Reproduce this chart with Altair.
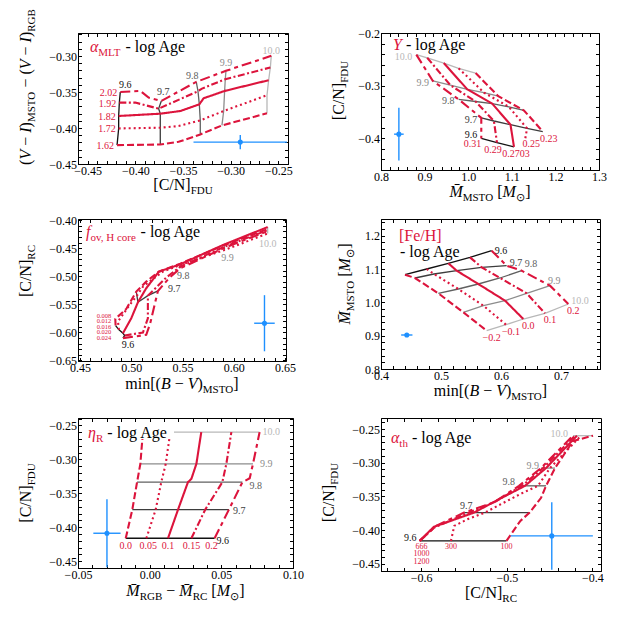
import math
import unicodedata
import altair as alt
import pandas as pd

FONT = "Liberation Serif"
RED = "#dc143c"
BLUE = "#1e90ff"
AGES = ["9.6", "9.7", "9.8", "9.9", "10.0"]
AGE_COLORS = ["#111111", "#3d3d3d", "#606060", "#8c8c8c", "#b8b8b8"]
DASH_KEYS = ["d0", "d1", "d2", "d3", "d4"]
DASHES = [[7, 3], [2, 3], [1, 0], [7, 2.5, 2, 2.5], [10, 4, 4, 4]]

# ---------------- Panel 1 : alpha_MLT ----------------
P1_PARAMS = ["1.62", "1.72", "1.82", "1.92", "2.02"]
P1_X = [
    [-0.4191, -0.3738, -0.3546, -0.3319, -0.3092, -0.2620],
    [-0.4174, -0.3738, -0.3546, -0.3319, -0.3074, -0.2620],
    [-0.4174, -0.3738, -0.3528, -0.3329, -0.3284, -0.3064, -0.2603],
    [-0.4167, -0.4000, -0.3755, -0.3343, -0.3301, -0.3057, -0.2585],
    [-0.4157, -0.3947, -0.3860, -0.3727, -0.3361, -0.3050, -0.2575],
]
P1_Y = [
    [-0.4238, -0.4229, -0.4192, -0.4089, -0.3964, -0.3796],
    [-0.4006, -0.3996, -0.3973, -0.3894, -0.3764, -0.3545],
    [-0.3833, -0.3801, -0.3764, -0.3671, -0.3587, -0.3485, -0.3336],
    [-0.3647, -0.3647, -0.3731, -0.3489, -0.3452, -0.3322, -0.3159],
    [-0.3499, -0.3485, -0.3578, -0.3624, -0.3359, -0.3206, -0.2996],
]
P1_AGE = [
    ["9.6", "9.7", "", "9.8", "9.9", "10.0"],
    ["9.6", "9.7", "", "9.8", "9.9", "10.0"],
    ["9.6", "9.7", "", "9.8", "", "9.9", "10.0"],
    ["9.6", "", "9.7", "9.8", "", "9.9", "10.0"],
    ["9.6", "", "", "9.7", "9.8", "9.9", "10.0"],
]
P1_ERR = [-0.290, -0.4196, 0.049, 0.010]

# ---------------- Panel 2 : Y ----------------
P2_PARAMS = ["0.23", "0.25", "0.2703", "0.29", "0.31"]
P2_X = [
    [1.017, 1.069, 1.128, 1.171],
    [0.978, 1.036, 1.093, 1.135, 1.131],
    [0.944, 0.998, 1.055, 1.097, 1.105],
    [0.906, 0.959, 1.017, 1.059, 1.066],
    [0.881, 0.919, 0.978, 1.030, 1.030],
]
P2_Y = [
    [-0.276, -0.320, -0.347, -0.387],
    [-0.267, -0.313, -0.340, -0.381, -0.400],
    [-0.257, -0.307, -0.334, -0.374, -0.416],
    [-0.247, -0.299, -0.330, -0.367, -0.408],
    [-0.241, -0.291, -0.326, -0.361, -0.400],
]
P2_AGE = [
    ["10.0", "9.9", "9.8", "9.7"],
    ["10.0", "9.9", "9.8", "9.7", ""],
    ["10.0", "9.9", "9.8", "9.7", "9.6"],
    ["10.0", "9.9", "9.8", "9.7", "9.6"],
    ["10.0", "9.9", "9.8", "9.7", "9.6"],
]
P2_ERR = [0.841, -0.392, 0.011, 0.050]

# ---------------- Panel 3 : f_ov ----------------
P3_PARAMS = ["0.008", "0.012", "0.016", "0.020", "0.024"]
P3_X = [
    [0.4847, 0.4844, 0.4951, 0.5049, 0.5146, 0.5269, 0.5477, 0.5909, 0.6331],
    [0.4880, 0.4870, 0.4984, 0.5055, 0.5114, 0.5308, 0.5477, 0.5909, 0.6331],
    [0.4919, 0.5000, 0.5065, 0.5146, 0.5269, 0.5477, 0.5909, 0.6331],
    [0.4935, 0.5114, 0.5162, 0.5162, 0.5341, 0.5477, 0.5909, 0.6331],
    [0.4919, 0.5146, 0.5185, 0.5260, 0.5373, 0.5477, 0.5909, 0.6331],
]
P3_Y = [
    [-0.5878, -0.5760, -0.5582, -0.5274, -0.5096, -0.4918, -0.4776, -0.4444, -0.4160],
    [-0.5955, -0.5807, -0.5511, -0.5345, -0.5185, -0.4918, -0.4800, -0.4533, -0.4237],
    [-0.6014, -0.5748, -0.5463, -0.5214, -0.4918, -0.4788, -0.4432, -0.4124],
    [-0.6056, -0.6002, -0.5748, -0.5345, -0.5025, -0.4829, -0.4474, -0.4178],
    [-0.6103, -0.6044, -0.5837, -0.5262, -0.5025, -0.4859, -0.4492, -0.4196],
]
P3_AGE = [
    ["9.6", "", "", "9.7", "", "", "9.8", "9.9", "10.0"],
    ["9.6", "", "", "9.7", "", "", "9.8", "9.9", "10.0"],
    ["9.6", "", "9.7", "", "", "9.8", "9.9", "10.0"],
    ["9.6", "", "", "9.7", "", "9.8", "9.9", "10.0"],
    ["9.6", "", "", "9.7", "", "9.8", "9.9", "10.0"],
]
P3_LABEL_X = [0.4805, 0.4805, 0.4805, 0.4805, 0.4805]
P3_LABEL_Y = [-0.5700, -0.5795, -0.5896, -0.5996, -0.6103]
P3_ERR = [0.630, -0.5837, 0.010, 0.050]

# ---------------- Panel 4 : [Fe/H] ----------------
P4_PARAMS = ["\u22120.2", "\u22120.1", "0.0", "0.1", "0.2"]
P4_X = [
    [0.4400, 0.4567, 0.4956, 0.5372, 0.5761],
    [0.4761, 0.4883, 0.5289, 0.5706, 0.6083],
    [0.5122, 0.5261, 0.5622, 0.6067, 0.6372],
    [0.5483, 0.5678, 0.5983, 0.6428, 0.6733],
    [0.5844, 0.6094, 0.6344, 0.6817, 0.7122],
]
P4_Y = [
    [1.083, 1.073, 1.027, 0.970, 0.915],
    [1.100, 1.085, 1.040, 0.990, 0.933],
    [1.117, 1.095, 1.055, 1.005, 0.950],
    [1.135, 1.105, 1.073, 1.027, 0.967],
    [1.155, 1.110, 1.095, 1.050, 0.995],
]
P4_AGE = [["9.6", "9.7", "9.8", "9.9", "10.0"]] * 5
P4_ERR = [0.443, 0.902, 0.0094, 0.006]

# ---------------- Panel 5 : eta_R ----------------
P5_PARAMS = ["0.0", "0.05", "0.1", "0.15", "0.2"]
P5_X = [
    [-0.0167, -0.0121, -0.0088, -0.0065, -0.0047],
    [-0.0023, 0.0042, 0.0081, 0.0112, 0.0144],
    [0.0128, 0.0198, 0.0267, 0.0291, 0.0326, 0.0360],
    [0.0291, 0.0388, 0.0507, 0.0535, 0.0570],
    [0.0453, 0.0553, 0.0647, 0.0698, 0.0721, 0.0767],
]
P5_Y = [
    [-0.4162, -0.3739, -0.3336, -0.3065, -0.2598],
    [-0.4162, -0.3739, -0.3336, -0.3065, -0.2598],
    [-0.4162, -0.3739, -0.3336, -0.3287, -0.3065, -0.2598],
    [-0.4162, -0.3739, -0.3336, -0.3065, -0.2598],
    [-0.4162, -0.3739, -0.3336, -0.3277, -0.3065, -0.2598],
]
P5_AGE = [
    ["9.6", "9.7", "9.8", "9.9", "10.0"],
    ["9.6", "9.7", "9.8", "9.9", "10.0"],
    ["9.6", "9.7", "9.8", "", "9.9", "10.0"],
    ["9.6", "9.7", "9.8", "9.9", "10.0"],
    ["9.6", "9.7", "9.8", "", "9.9", "10.0"],
]
P5_ERR = [-0.0298, -0.4088, 0.0095, 0.050]

# ---------------- Panel 6 : alpha_th ----------------
P6_PARAMS = ["100", "300", "666", "1000", "1200"]
P6_X = [
    [-0.5004, -0.4842, -0.4734, -0.4600, -0.4542, -0.4437, -0.4227, -0.3993],
    [-0.5653, -0.5614, -0.5459, -0.5255, -0.5103, -0.4835, -0.4636, -0.4496, -0.4134],
    [-0.6019, -0.5853, -0.5382, -0.5112, -0.4788, -0.4542, -0.4180],
    [-0.6019, -0.5846, -0.5440, -0.5131, -0.4823, -0.4577, -0.4204],
    [-0.6019, -0.5826, -0.5498, -0.5151, -0.4858, -0.4601, -0.4227],
]
P6_Y = [
    [-0.4158, -0.3861, -0.3738, -0.3520, -0.3342, -0.3079, -0.2678, -0.2599],
    [-0.4158, -0.3936, -0.3837, -0.3738, -0.3636, -0.3459, -0.3342, -0.3079, -0.2599],
    [-0.4158, -0.3950, -0.3738, -0.3554, -0.3342, -0.3079, -0.2599],
    [-0.4158, -0.3960, -0.3738, -0.3574, -0.3342, -0.3079, -0.2599],
    [-0.4158, -0.3936, -0.3738, -0.3589, -0.3342, -0.3079, -0.2599],
]
P6_AGE = [
    ["9.6", "", "9.7", "", "9.8", "9.9", "", "10.0"],
    ["9.6", "", "", "9.7", "", "", "9.8", "9.9", "10.0"],
    ["9.6", "", "9.7", "", "9.8", "9.9", "10.0"],
    ["9.6", "", "9.7", "", "9.8", "9.9", "10.0"],
    ["9.6", "", "9.7", "", "9.8", "9.9", "10.0"],
]
P6_ERR = [-0.4475, -0.4084, 0.048, 0.050]

# ---------------- text helpers ----------------
W = {" ": .25, "(": .333, ")": .333, "[": .333, "]": .333, "/": .278, "\u2212": .564, "-": .333,
     ".": .25, ",": .25, "A": .722, "B": .667, "C": .667, "D": .722, "E": .611, "F": .556,
     "G": .722, "H": .722, "I": .333, "L": .611, "M": .889, "N": .722, "O": .722, "R": .667,
     "S": .556, "T": .611, "U": .722, "V": .722, "Y": .722, "a": .444, "c": .444, "e": .444,
     "g": .5, "h": .5, "i": .278, "l": .278, "m": .778, "n": .5, "o": .5, "r": .333, "t": .278,
     "v": .5, "f": .333, "\u03b1": .52, "\u03b7": .5, "\u2299": .85}
WI = {"V": .611, "I": .333, "B": .611, "M": .833, "Y": .556, "f": .278}
ONE = pd.DataFrame({"k": [0]})
TICK = {"expr": "-3.5"}


def tw(s, size, italic):
    t = 0.0
    for ch in s:
        if unicodedata.combining(ch):
            continue
        w = WI.get(ch) if italic and ch in WI else W.get(ch, 0.5)
        t += w * size
    return t


def rich(segs, ax, ay, vertical=False, main=16, sub=11, shift=4, center=True):
    items = []
    for txt, kind, color in segs:
        size = sub if kind == "s" else main
        items.append((txt, size, kind == "i", color, kind))
    widths = [tw(t, s, i) for t, s, i, c, k in items]
    pos = -sum(widths) / 2 if center else 0.0
    out = []
    for (txt, size, it, color, kind), w in zip(items, widths):
        core = txt.strip(" ")
        lead = (len(txt) - len(txt.lstrip(" "))) * W[" "] * size
        off = shift if kind == "s" else 0
        p = pos + lead
        if vertical:
            x, y, ang = ax + off, ay - p, 270
        else:
            x, y, ang = ax + p, ay + off, 0
        out.append(
            alt.Chart(ONE).mark_text(
                text=core, font=FONT, fontSize=size,
                fontStyle="italic" if it else "normal", color=color,
                align="left", baseline="alphabetic", angle=ang,
            ).encode(x=alt.value(x), y=alt.value(y))
        )
        pos += w
    return out


def tick_values(dom, step):
    lo, hi = min(dom), max(dom)
    k0 = math.ceil(lo / step - 1e-9)
    k1 = math.floor(hi / step + 1e-9)
    return [round(k * step, 6) for k in range(k0, k1 + 1)]


def make_axes(spec, main_orient, other_orient):
    dom, major, minor, fmt = spec
    vals = tick_values(dom, minor)
    lexpr = f"abs(datum.value/{major} - round(datum.value/{major})) < 1e-6 ? datum.label : ''"
    main = alt.Axis(orient=main_orient, values=vals, format=fmt, labelExpr=lexpr, title=None,
                    tickSize=TICK, labelPadding=5)
    other = alt.Axis(orient=other_orient, values=vals, labels=False, title=None, domain=False,
                     tickSize=TICK)
    return main, other


def make_panel(params, X, Y, AGE, err, sx, sy, st):
    rows, nodes = [], []
    for i, (p, xl, yl, al) in enumerate(zip(params, X, Y, AGE)):
        for j, (xv, yv, a) in enumerate(zip(xl, yl, al)):
            rows.append(dict(param=p, dash=DASH_KEYS[i], ord=j, x=xv, y=yv))
            if a:
                nodes.append(dict(age=a, pidx=i, x=xv, y=yv))
    dl = pd.DataFrame(rows)
    dn = pd.DataFrame(nodes)

    xsc = alt.Scale(domain=sx[0], nice=False, zero=False)
    ysc = alt.Scale(domain=sy[0], nice=False, zero=False)
    xmain, xother = make_axes(sx, "bottom", "top")
    ymain, yother = make_axes(sy, "left", "right")

    def X_(f, ax=None):
        return alt.X(f + ":Q", scale=xsc, axis=ax)

    def Y_(f, ax=None):
        return alt.Y(f + ":Q", scale=ysc, axis=ax)

    ex, ey, dx, dy = err
    de = pd.DataFrame({"x": [ex], "y": [ey], "xlo": [ex - dx], "xhi": [ex + dx],
                       "ylo": [ey - dy], "yhi": [ey + dy]})

    layers = []
    layers.append(
        alt.Chart(dn).mark_line(strokeWidth=1.3, clip=True).encode(
            x=X_("x", xmain), y=Y_("y", ymain),
            color=alt.Color("age:N", scale=alt.Scale(domain=AGES, range=AGE_COLORS), legend=None),
            detail="age:N", order="pidx:Q")
    )
    layers.append(
        alt.Chart(de).mark_point(opacity=0, size=1).encode(x=X_("x", xother), y=Y_("y", yother))
    )
    layers.append(
        alt.Chart(dl).mark_line(color=RED, strokeWidth=2.1, clip=True).encode(
            x=X_("x"), y=Y_("y"),
            strokeDash=alt.StrokeDash("dash:N", scale=alt.Scale(domain=DASH_KEYS, range=DASHES), legend=None),
            detail="param:N", order="ord:Q")
    )
    layers.append(alt.Chart(de).mark_rule(color=BLUE, strokeWidth=1.4, clip=True).encode(
        x=X_("xlo"), x2="xhi", y=Y_("y")))
    layers.append(alt.Chart(de).mark_rule(color=BLUE, strokeWidth=1.4, clip=True).encode(
        x=X_("x"), y=Y_("ylo"), y2="yhi"))
    layers.append(alt.Chart(de).mark_point(filled=True, color=BLUE, opacity=1, size=26, shape="circle").encode(
        x=X_("x"), y=Y_("y")))

    for ai, pidx, ddx, ddy, al in st["age_labels"]:
        sel = dn[(dn.age == AGES[ai]) & (dn.pidx == pidx)].iloc[[0]][["x", "y"]].reset_index(drop=True)
        sel["t"] = AGES[ai]
        layers.append(alt.Chart(sel).mark_text(
            font=FONT, fontSize=10, color=AGE_COLORS[ai], align=al, baseline="middle",
            dx=ddx, dy=ddy).encode(x=X_("x"), y=Y_("y"), text="t:N"))
    if "plabel_pos" in st:
        lx, ly = st["plabel_pos"]
        dp = pd.DataFrame({"x": lx, "y": ly, "t": params})
        layers.append(alt.Chart(dp).mark_text(
            font=FONT, fontSize=6.5, color=RED, align="right", baseline="middle").encode(
            x=X_("x"), y=Y_("y"), text="t:N"))
    else:
        psize = st.get("plabel_size", 10)
        for i, (pt, ddx, ddy, al) in enumerate(st["param_labels"]):
            dp = pd.DataFrame({"x": [X[i][pt]], "y": [Y[i][pt]], "t": [params[i]]})
            layers.append(alt.Chart(dp).mark_text(
                font=FONT, fontSize=psize, color=RED, align=al, baseline="middle",
                dx=ddx, dy=ddy).encode(x=X_("x"), y=Y_("y"), text="t:N"))

    w, h = st["size"]
    if "title_box" in st:
        bx0, bx1, by0, by1 = st["title_box"]
        layers.append(alt.Chart(ONE).mark_rect(color="white").encode(
            x=alt.value(bx0), x2=alt.value(bx1), y=alt.value(by0), y2=alt.value(by1)))
    for segs, (tx, ty) in st["titles"]:
        layers += rich(segs, tx, ty, vertical=False, main=16, sub=11, shift=4, center=False)
    layers += rich(st["ytitle"], st["ybase"], h / 2 + st["yshift"], vertical=True)
    layers += rich(st["xtitle"], w / 2, h + st["xbase"], vertical=False)
    return (alt.layer(*layers).properties(width=w, height=h)
            .resolve_axis(x="independent", y="independent"))


K = "black"
CN_FDU = [("[C/N]", "r", K), ("FDU", "s", K)]
CN_RC = [("[C/N]", "r", K), ("RC", "s", K)]
MIN_BV = [("min[(", "r", K), ("B", "i", K), (" \u2212 ", "r", K), ("V", "i", K), (")", "r", K),
          ("MSTO", "s", K), ("]", "r", K)]
M_MSTO = [("M\u0304", "i", K), ("MSTO", "s", K), (" [", "r", K), ("M", "i", K), ("\u2299", "s", K),
          ("]", "r", K)]

ST1 = dict(size=(210, 131),
           age_labels=[(0, 4, 5, -7, "center"), (1, 4, 2, -9, "center"), (2, 4, -4, -6, "center"),
                       (3, 4, 0, -8, "center"), (4, 4, 0, -5, "center")],
           param_labels=[(0, -3, 1, "right")] * 5,
           titles=[([("\u03b1", "i", RED), ("MLT", "s", RED), (" - log Age", "r", K)], (12, 19))],
           ytitle=[("(", "r", K), ("V", "i", K), (" \u2212 ", "r", K), ("I", "i", K), (")", "r", K),
                   ("MSTO", "s", K), (" \u2212 (", "r", K), ("V", "i", K), (" \u2212 ", "r", K),
                   ("I", "i", K), (")", "r", K), ("RGB", "s", K)],
           ybase=-47, yshift=-11.5, xtitle=CN_FDU, xbase=25.5)
ST2 = dict(size=(218, 137),
           age_labels=[(0, 4, -4, -3, "right")] + [(k, 4, -4, 2, "right") for k in range(1, 5)],
           param_labels=[(-1, 6, 7, "center"), (-1, 6, 6, "center"), (-1, 2, 7, "center"),
                         (-1, -4, 7, "center"), (-1, 0, 6, "right")],
           titles=[([("Y", "i", RED), (" - log Age", "r", K)], (12, 17))],
           ytitle=CN_FDU, ybase=-37, yshift=-11, xtitle=M_MSTO, xbase=26.5)
ST3 = dict(size=(208, 142),
           age_labels=[(0, 4, 5, 7, "center"), (1, 4, 10, -2, "left"), (2, 4, 3, 8, "center"),
                       (3, 4, 3, 10, "center"), (4, 4, 0, 13, "center")],
           plabel_pos=(P3_LABEL_X, P3_LABEL_Y),
           titles=[([("f", "i", RED), ("ov, H core", "s", RED), (" - log Age", "r", K)], (8, 18))],
           ytitle=CN_RC, ybase=-47, yshift=-19, xtitle=MIN_BV, xbase=28)
ST4 = dict(size=(219, 150),
           age_labels=[(0, 4, 3, 0, "left"), (1, 4, 3, -3, "left"), (2, 4, 3, -7, "left"),
                       (3, 4, -2, -5, "left"), (4, 4, 3, -3, "left")],
           param_labels=[(-1, 5, 7, "center")] * 5,
           titles=[([("[Fe/H]", "r", RED)], (18, 22)), ([("- log Age", "r", K)], (19, 38))],
           ytitle=M_MSTO, ybase=-31, yshift=-10, xtitle=MIN_BV, xbase=27)
ST5 = dict(size=(215, 150),
           age_labels=[(0, 4, 2, 3, "left"), (1, 4, 4, 1, "left"), (2, 4, 7, 4, "left"),
                       (3, 4, 7, 0, "left"), (4, 4, 3, 0, "left")],
           param_labels=[(0, 0, 8, "center"), (0, 2, 8, "center"), (0, 0, 8, "center"),
                         (0, 0, 8, "center"), (0, -3, 8, "center")],
           title_box=(4, 96, 4, 21),
           titles=[([("\u03b7", "i", RED), ("R", "s", RED), (" - log Age", "r", K)], (10, 20))],
           ytitle=CN_FDU, ybase=-47, yshift=0,
           xtitle=[("M\u0304", "i", K), ("RGB", "s", K), (" \u2212 ", "r", K), ("M\u0304", "i", K),
                   ("RC", "s", K), (" [", "r", K), ("M", "i", K), ("\u2299", "s", K), ("]", "r", K)],
           xbase=28)
ST6 = dict(size=(220, 153),
           age_labels=[(0, 4, -3, -3, "right"), (1, 4, 2, -7, "center"), (2, 4, -4, -4, "right"),
                       (3, 4, -2, -2, "right"), (4, 4, -5, -2, "right")],
           plabel_size=8,
           param_labels=[(0, 0, 6, "center"), (0, 0, 6, "center"), (0, 2, 6, "center"),
                         (0, 2, 13.5, "center"), (0, 2, 21, "center")],
           titles=[([("\u03b1", "i", RED), ("th", "s", RED), (" - log Age", "r", K)], (10, 25))],
           ytitle=CN_FDU, ybase=-47, yshift=-2, xtitle=CN_RC, xbase=27)

p1 = make_panel(P1_PARAMS, P1_X, P1_Y, P1_AGE, P1_ERR,
                ([-0.46, -0.24], 0.05, 0.01, ".2f"), ([-0.45, -0.268], 0.05, 0.01, ".2f"), ST1)
p2 = make_panel(P2_PARAMS, P2_X, P2_Y, P2_AGE, P2_ERR,
                ([0.8, 1.3], 0.1, 0.02, ".1f"), ([-0.46, -0.2], 0.1, 0.02, ".1f"), ST2)
p3 = make_panel(P3_PARAMS, P3_X, P3_Y, P3_AGE, P3_ERR,
                ([0.448, 0.651], 0.05, 0.01, ".2f"), ([-0.651, -0.398], 0.05, 0.01, ".2f"), ST3)
p4 = make_panel(P4_PARAMS, P4_X, P4_Y, P4_AGE, P4_ERR,
                ([0.4, 0.765], 0.1, 0.02, ".1f"), ([0.8, 1.25], 0.1, 0.02, ".1f"), ST4)
p5 = make_panel(P5_PARAMS, P5_X, P5_Y, P5_AGE, P5_ERR,
                ([-0.05, 0.10], 0.05, 0.01, ".2f"), ([-0.46, -0.239], 0.05, 0.01, ".2f"), ST5)
p6 = make_panel(P6_PARAMS, P6_X, P6_Y, P6_AGE, P6_ERR,
                ([-0.647, -0.39], 0.1, 0.02, ".1f"), ([-0.4604, -0.2337], 0.05, 0.01, ".2f"), ST6)

chart = (
    alt.concat(p1, p2, p3, p4, p5, p6, columns=2, bounds="flush",
               spacing={"row": 49, "column": 88})
    .properties(padding={"left": 9, "top": 0, "right": 4, "bottom": 4}, background="white")
    .configure_view(stroke="black", strokeWidth=1)
    .configure_axis(grid=False, domainColor="black", tickColor="black",
                    labelFont=FONT, labelFontSize=12, labelColor="black",
                    labelFlush=False, labelOverlap=False, domainWidth=1, tickWidth=1)
)

chart.save("out.html", embed_options={"renderer": "svg", "actions": False})
